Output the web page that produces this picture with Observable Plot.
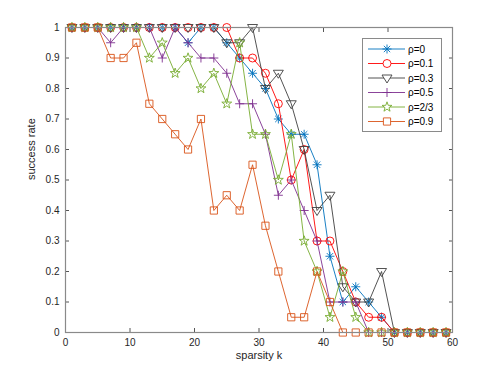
<!DOCTYPE html>
<html>
<head>
<meta charset="utf-8">
<script src="https://cdn.jsdelivr.net/npm/d3@7"></script>
<script src="https://cdn.jsdelivr.net/npm/@observablehq/plot@0.6"></script>
<style>
  html, body { margin: 0; padding: 0; background: #fff; }
  #wrap { position: relative; width: 498px; height: 374px; }
  #legend { position: absolute; left: 362px; top: 38px; }
</style>
</head>
<body>
<div id="wrap"></div>
<script>
// ---- data ----
const k = [1,3,5,7,9,11,13,15,17,19,21,23,25,27,29,31,33,35,37,39,41,43,45,47,49,51,53,55,57,59];
const rho0  = [1,1,1,1,1,1,1,1,1,0.95,1,1,0.95,0.9,0.85,0.8,0.7,0.65,0.65,0.55,0.25,0.1,0.15,0.1,0.05,0,0,0,0,0];
const rho01 = [1,1,1,1,1,1,1,1,1,1,1,1,1,0.9,0.9,0.85,0.75,0.5,0.6,0.3,0.3,0.2,0.1,0.05,0.05,0,0,0,0,0];
const rho03 = [1,1,1,1,1,1,1,1,1,1,1,1,0.95,0.95,1,0.8,0.85,0.75,0.6,0.4,0.45,0.15,0.1,0.1,0.2,0,0,0,0,0];
const rho05 = [1,1,1,0.95,1,1,1,0.9,1,0.95,0.9,0.9,0.85,0.75,0.75,0.65,0.45,0.5,0.4,0.3,0.1,0.1,0.1,0,0,0,0,0,0,0];
const rho23 = [1,1,1,1,1,1,0.9,0.95,0.85,0.9,0.8,0.85,0.75,0.95,0.65,0.65,0.5,0.65,0.3,0.2,0.05,0.2,0.05,0,0,0,0,0,0,0];
const rho09 = [1,1,1,0.9,0.9,0.95,0.75,0.7,0.65,0.6,0.7,0.4,0.45,0.4,0.55,0.35,0.2,0.05,0.05,0.2,0.1,0,0,0,0,0,0,0,0,0];
const seriesNames = ["ρ=0","ρ=0.1","ρ=0.3","ρ=0.5","ρ=2/3","ρ=0.9"];
const seriesValues = [rho0, rho01, rho03, rho05, rho23, rho09];
const colors = ["#0072BD","#FF0000","#404040","#7E2F8E","#77AC30","#D95319"];
const xTicks = [0,10,20,30,40,50,60];
const yTicks = [0,0.1,0.2,0.3,0.4,0.5,0.6,0.7,0.8,0.9,1];
const xLabel = "sparsity k";
const yLabel = "success rate";

// ---- marker shapes (MATLAB-like) ----
const R = s => Math.sqrt(s / Math.PI);
const asterisk = {draw(c, s){ const r = R(s), d = r*0.7071;
  c.moveTo(-r,0); c.lineTo(r,0); c.moveTo(0,-r); c.lineTo(0,r);
  c.moveTo(-d,-d); c.lineTo(d,d); c.moveTo(-d,d); c.lineTo(d,-d); }};
const circle = {draw(c, s){ const r = R(s); c.moveTo(r,0); c.arc(0,0,r,0,2*Math.PI); }};
const triDown = {draw(c, s){ const r = R(s);
  c.moveTo(-r,-r*0.6); c.lineTo(r,-r*0.6); c.lineTo(0,r); c.closePath(); }};
const plus = {draw(c, s){ const r = R(s); c.moveTo(-r,0); c.lineTo(r,0); c.moveTo(0,-r); c.lineTo(0,r); }};
const pentagram = {draw(c, s){ const r = R(s), ri = r*0.4;
  for (let i = 0; i < 10; i++) { const a = -Math.PI/2 + i*Math.PI/5, rr = i%2 ? ri : r;
    const px = rr*Math.cos(a), py = rr*Math.sin(a); i ? c.lineTo(px,py) : c.moveTo(px,py); }
  c.closePath(); }};
const square = {draw(c, s){ const r = R(s)*0.8; c.rect(-r,-r,2*r,2*r); }};
const symbols = [asterisk, circle, triDown, plus, pentagram, square];
const radii = [4.5, 4, 5, 4.5, 5.2, 4.5];

const tables = seriesValues.map(vals => k.map((x, i) => ({k: x, v: vals[i]})));

const marks = [];
tables.forEach((t, i) => {
  marks.push(Plot.line(t, {x: "k", y: "v", stroke: colors[i], strokeWidth: 0.9}));
  marks.push(Plot.dot(t, {x: "k", y: "v", stroke: colors[i], fill: "none", strokeWidth: 0.9, symbol: symbols[i], r: radii[i]}));
});

const textColor = "#262626";
const boxColor = "#8a8a8a";
const chart = Plot.plot({
  width: 498, height: 374,
  marginLeft: 65, marginRight: 46, marginTop: 27, marginBottom: 42,
  x: {domain: [0, 60]},
  y: {domain: [0, 1]},
  style: {fontFamily: "'Liberation Sans', Arial, Helvetica, sans-serif", fontSize: "10px", color: textColor, background: "white"},
  marks: [
    Plot.axisX({ticks: xTicks, anchor: "bottom", tickSize: 0, tickPadding: 6, label: null}),
    Plot.axisY({ticks: yTicks, anchor: "left", tickSize: 0, tickPadding: 6, label: null, tickFormat: d3.format("~g")}),
    Plot.axisX({ticks: xTicks, anchor: "bottom", tickSize: -4, tickFormat: () => "", label: null, stroke: "#555"}),
    Plot.axisX({ticks: xTicks, anchor: "top", tickSize: -4, tickFormat: () => "", label: null, stroke: "#555"}),
    Plot.axisY({ticks: yTicks, anchor: "left", tickSize: -4, tickFormat: () => "", label: null, stroke: "#555"}),
    Plot.axisY({ticks: yTicks, anchor: "right", tickSize: -4, tickFormat: () => "", label: null, stroke: "#555"}),
    ...marks,
    Plot.frame({stroke: boxColor, strokeWidth: 1.2}),
    Plot.text([xLabel], {frameAnchor: "bottom", dy: 26, fontSize: 11, fill: textColor}),
    Plot.text([yLabel], {frameAnchor: "left", dx: -34, rotate: -90, fontSize: 11, fill: textColor})
  ]
});

const wrap = document.getElementById("wrap");
wrap.appendChild(chart);

// ---- legend overlay ----
const lw = 80, rowH = 14.5, lh = 94;
const lg = d3.select(wrap).append("svg").attr("id", "legend")
  .attr("width", lw).attr("height", lh)
  .style("font-family", "'Liberation Sans', Arial, Helvetica, sans-serif").style("font-size", "10px");
lg.append("rect").attr("x", 0.5).attr("y", 0.5).attr("width", lw - 1).attr("height", lh - 1)
  .attr("fill", "white").attr("stroke", boxColor).attr("stroke-width", 1);
seriesNames.forEach((name, i) => {
  const y = 11 + i * rowH;
  const g = lg.append("g");
  g.append("line").attr("x1", 6).attr("x2", 43).attr("y1", y).attr("y2", y)
    .attr("stroke", colors[i]).attr("stroke-width", 0.9);
  g.append("path").attr("transform", `translate(25,${y})`)
    .attr("d", d3.symbol(symbols[i], Math.PI * radii[i] * radii[i])())
    .attr("fill", "white").attr("stroke", colors[i]).attr("stroke-width", 0.9);
  g.append("text").attr("x", 46).attr("y", y).attr("dy", "0.35em").attr("fill", "#000").text(name);
});
</script>
</body>
</html>
